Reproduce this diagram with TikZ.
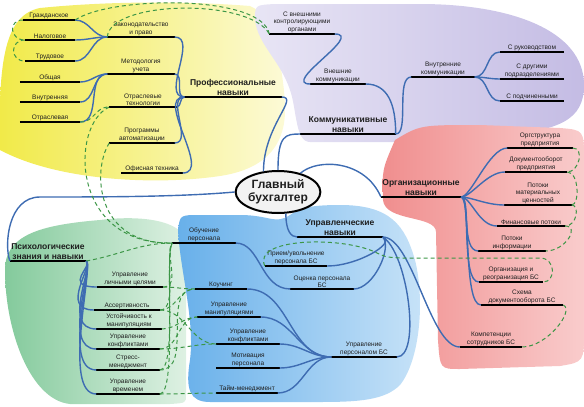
\documentclass[tikz,border=0pt]{standalone}
\usepackage{fontspec}
\setmainfont{Liberation Sans}
\usetikzlibrary{shapes.geometric}
\definecolor{yelA}{RGB}{241,234,72}
\definecolor{yelB}{RGB}{252,250,214}
\definecolor{prpA}{RGB}{232,229,245}
\definecolor{prpB}{RGB}{196,188,228}
\definecolor{pnkA}{RGB}{240,142,142}
\definecolor{pnkB}{RGB}{249,204,204}
\definecolor{bluA}{RGB}{104,176,234}
\definecolor{bluB}{RGB}{200,227,248}
\definecolor{grnA}{RGB}{132,202,156}
\definecolor{grnB}{RGB}{222,241,227}
\definecolor{ccon}{RGB}{62,108,178}
\definecolor{clnk}{RGB}{60,150,70}
\definecolor{ctxt}{RGB}{30,30,30}
\tikzset{
  lab/.style={font=\fontsize{6.5}{7.4}\selectfont, text=ctxt, align=center},
  uln/.style={draw, black, line width=2.2pt},
  leaf/.style={lab, anchor=south, inner sep=1.3pt, minimum width=#1pt,
    append after command={(\tikzlastnode.south west) edge[uln] (\tikzlastnode.south east)}},
  hleaf/.style={leaf=#1, font=\fontsize{8.5}{9.6}\selectfont\bfseries},
  bcon/.style={ccon, line width=1.4pt},
  dlnk/.style={clnk, line width=1pt, dash pattern=on 4pt off 3pt},
  hub/.style={ellipse, draw=black, line width=2pt, fill=gray!10, minimum width=78pt,
    minimum height=42pt, inner sep=0pt, align=center, text=ctxt,
    font=\fontsize{12}{13}\selectfont\bfseries},
}
\begin{document}
\begin{tikzpicture}[x=1pt,y=-1pt]
  \useasboundingbox (0,0) rectangle (584,407);
  % regions
  \shade[left color=yelA, right color=yelB] (0,150) .. controls (-2,60) and (5,15) .. (40,8)
    .. controls (120,0) and (200,2) .. (250,6) .. controls (275,15) and (285,80) .. (285,110)
    .. controls (285,150) and (260,170) .. (220,176) .. controls (160,185) and (60,182) .. (0,150) -- cycle;
  \shade[left color=prpA, right color=prpB] (255,20) .. controls (255,5) .. (275,4) -- (420,4)
    .. controls (510,4) and (584,30) .. (584,85) .. controls (584,120) and (560,130) .. (500,136)
    .. controls (450,140) and (420,142) .. (400,142) -- (310,142) .. controls (295,142) and (297,110) .. (290,90)
    .. controls (280,60) and (258,45) .. (255,20) -- cycle;
  \shade[left color=pnkA, right color=pnkB] (395,140) .. controls (420,125) .. (480,125) -- (560,128)
    .. controls (584,130) .. (584,160) -- (584,330) .. controls (584,362) .. (560,366) -- (460,369)
    .. controls (440,369) .. (438,340) -- (436,232) .. controls (436,215) and (385,222) .. (383,200)
    .. controls (382,170) .. (395,140) -- cycle;
  \shade[left color=grnA, right color=grnB] (5,270) .. controls (5,235) and (40,225) .. (100,220)
    .. controls (140,215) and (180,220) .. (186,240) -- (186,395) .. controls (186,403) .. (170,404)
    -- (70,404) .. controls (30,400) and (5,330) .. (5,270) -- cycle;
  \shade[left color=bluA, right color=bluB] (178,230) .. controls (180,215) .. (200,215) -- (240,215)
    .. controls (270,215) and (275,225) .. (290,215) .. controls (300,208) and (310,205) .. (340,205)
    .. controls (390,205) and (405,225) .. (415,260) .. controls (425,300) and (420,360) .. (400,385)
    .. controls (385,400) and (360,402) .. (320,402) -- (210,402) .. controls (190,402) and (185,390) .. (190,360)
    .. controls (195,320) and (180,270) .. (178,230) -- cycle;

  \node[hub] (chief) at (278,192) {Главный\\бухгалтер};

  \node[leaf=52] (grazh) at (49,20) {Гражданское};
  \node[leaf=50] (nalog) at (50,40) {Налоговое};
  \node[leaf=50] (trud) at (50,61) {Трудовое};
  \node[leaf=67] (zak) at (141,37) {Законодательство\\и право};
  \node[leaf=60] (obsh) at (50,82) {Общая};
  \node[leaf=60] (vnutr) at (50,102) {Внутренняя};
  \node[leaf=60] (otrasl) at (50,122) {Отраслевая};
  \node[leaf=67] (metod) at (141,74) {Методология\\учета};
  \node[leaf=67] (otrt) at (143,107) {Отраслевые\\технологии};
  \node[leaf=65] (prog) at (142,143) {Программы\\автоматизации};
  \node[leaf=61] (ofis) at (152,173) {Офисная техника};
  \node[hleaf=97] (prof) at (233,97) {Профессиональные\\навыки};

  \node[leaf=65] (sext) at (302,34) {С внешними\\контролирующими\\органами};
  \node[leaf=55] (vnesh) at (338,84) {Внешние\\коммуникации};
  \node[hleaf=95] (komm) at (348,134) {Коммуникативные\\навыки};
  \node[leaf=63] (vnutk) at (443,77) {Внутренние\\коммуникации};
  \node[leaf=64] (ruk) at (532,52) {С руководством};
  \node[leaf=64] (drug) at (532,79) {С другими\\подразделениями};
  \node[leaf=64] (podch) at (532,101) {С подчиненными};

  \node[hleaf=74] (org) at (421,197) {Организационные\\навыки};
  \node[leaf=65] (orgs) at (540,148) {Оргструктура\\предприятия};
  \node[leaf=62] (dokob) at (536,172) {Документооборот\\предприятия};
  \node[leaf=67] (potm) at (538,205) {Потоки\\материальных\\ценностей};
  \node[leaf=68] (fin) at (531,226) {Финансовые потоки};
  \node[leaf=67] (potinf) at (512,251) {Потоки\\информации};
  \node[leaf=64] (orgr) at (511,282) {Организация и\\реогранизация БС};
  \node[leaf=82] (shema) at (522,305) {Схема\\документооборота БС};
  \node[leaf=62] (komp) at (491,347) {Компетенции\\сотрудников БС};

  \node[hleaf=85] (upr) at (340,237) {Управленческие\\навыки};
  \node[leaf=62] (priem) at (296,266) {Прием/увольнение\\персонала БС};
  \node[leaf=63] (ocen) at (322,289) {Оценка персонала\\БС};
  \node[leaf=63] (obuch) at (204,243) {Обучение\\персонала};
  \node[leaf=52] (kouch) at (221,289) {Коучинг};
  \node[leaf=63] (uman) at (229,317) {Управление\\манипуляциями};
  \node[leaf=63] (ukonf) at (248,344) {Управление\\конфликтами};
  \node[leaf=63] (motiv) at (248,368) {Мотивация\\персонала};
  \node[leaf=61] (taim) at (247,393) {Тайм-менеджмент};
  \node[leaf=65] (uprp) at (364,357) {Управление\\персоналом БС};

  \node[hleaf=73] (psy) at (48,261) {Психологические\\знания и навыки};
  \node[leaf=66] (ulc) at (130,287) {Управление\\личными целями};
  \node[leaf=66] (asser) at (127,310) {Ассертивность};
  \node[leaf=65] (ust) at (129,329) {Устойчивость к\\манипуляциям};
  \node[leaf=63] (gkonf) at (128,349) {Управление\\конфликтами};
  \node[leaf=63] (stress) at (128,370) {Стресс-\\менеджмент};
  \node[leaf=63] (uvr) at (128,394) {Управление\\временем};

  % branches
  \foreach \s in {grazh,nalog,trud} \draw[bcon] (\s.south east) to[out=0,in=180] (zak.south west);
  \foreach \s in {obsh,vnutr,otrasl} \draw[bcon] (\s.south east) to[out=0,in=180] (metod.south west);
  \foreach \s in {zak,metod,otrt,prog,ofis} \draw[bcon] (\s.south east) to[out=0,in=180] (prof.south west);
  \draw[bcon] (prof.south east) .. controls +(18,0) and +(0,-45) .. (chief.125);

  \draw[bcon] (chief.north) .. controls +(0,-35) and +(-15,0) .. (komm.south west);
  \draw[bcon] (sext.south east) .. controls +(30,0) and +(-30,0) .. (vnesh.south west);
  \draw[bcon] (vnesh.south east) .. controls +(22,0) and +(0,-30) .. (komm.south east);
  \draw[bcon] (komm.south east) .. controls +(14,0) and +(-16,0) .. (vnutk.south west);
  \foreach \t in {ruk,drug,podch} \draw[bcon] (vnutk.south east) to[out=0,in=180] (\t.south west);

  \draw[bcon] (chief.40) .. controls (318,158) and (365,160) .. (org.south west);
  \foreach \t in {orgs,dokob,potm,fin,potinf,orgr,shema}
    \draw[bcon] (org.south east) .. controls +(10,0) and +(-18,0) .. (\t.south west);

  \draw[bcon] (chief.290) .. controls +(0,18) and +(-6,0) .. (upr.south west);
  \draw[bcon] (upr.south east) .. controls +(14,6) and +(30,0) .. (priem.south east);
  \draw[bcon] (upr.south east) .. controls +(10,10) and +(20,0) .. (ocen.south east);
  \draw[bcon] (obuch.south east) .. controls +(25,0) and +(-30,0) .. (ocen.south west);
  \draw[bcon] (uprp.south east) .. controls +(25,0) and +(25,15) .. (upr.south east);
  \draw[bcon] (upr.south east) .. controls +(30,0) and +(-30,0) .. (komp.south west);
  \foreach \s in {kouch,uman,ukonf,motiv,taim} \draw[bcon] (\s.south east) to[out=0,in=180] (uprp.south west);

  \draw[bcon] (chief.west) .. controls (180,197) and (100,197) .. (40,197)
    .. controls (8,197) and (4,245) .. (psy.south west);
  \foreach \t in {ulc,asser,ust,gkonf,stress,uvr}
    \draw[bcon] (psy.south east) .. controls +(8,4) and +(-35,0) .. (\t.south west);

  % cross links
  \draw[dlnk] (grazh.south west) .. controls +(-15,0) and +(-15,0) .. (nalog.south west);
  \draw[dlnk] (nalog.south west) .. controls +(-15,0) and +(-15,0) .. (trud.south west);
  \draw[dlnk] (grazh.south east) .. controls (110,-4) and (262,-6) .. (sext.south west);
  \draw[dlnk] (zak.south west) .. controls (110,0) and (250,-2) .. (sext.south west);
  \draw[dlnk] (otrasl.south east) .. controls +(15,0) and +(-15,0) .. (otrt.south west);
  \draw[dlnk] (otrt.south west) .. controls (70,125) and (70,245) .. (obuch.south west);
  \draw[dlnk] (prog.south west) .. controls (92,170) and (95,245) .. (obuch.south west);
  \draw[dlnk] (psy.south east) .. controls (120,255) and (140,243) .. (obuch.south west);
  \foreach \s in {ulc,asser,stress,uvr}
    \draw[dlnk] (\s.south east) .. controls +(18,0) and +(-8,10) .. (obuch.south west);
  \draw[dlnk] (ulc.south east) to[out=0,in=180] (kouch.south west);
  \draw[dlnk] (asser.south east) to[out=0,in=180] (kouch.south west);
  \draw[dlnk] (asser.south east) to[out=0,in=180] (ukonf.south west);
  \draw[dlnk] (ust.south east) to[out=0,in=180] (uman.south west);
  \draw[dlnk] (gkonf.south east) to[out=0,in=180] (ukonf.south west);
  \draw[dlnk] (gkonf.south east) to[out=0,in=180] (uman.south west);
  \draw[dlnk] (stress.south east) to[out=0,in=180] (kouch.south west);
  \draw[dlnk] (uvr.south east) to[out=0,in=180] (taim.south west);
  \draw[dlnk] (priem.south west) .. controls (252,238) and (340,236) .. (375,252)
    .. controls (385,257) .. (400,258) -- (540,258) .. controls (556,258) and (556,282) .. (orgr.south east);
  \draw[dlnk] (orgs.south east) .. controls +(12,0) and +(12,0) .. (dokob.south east);
  \draw[dlnk] (dokob.south east) .. controls +(12,0) and +(8,0) .. (potm.south east);
  \draw[dlnk] (potm.south east) .. controls +(8,0) and +(12,0) .. (fin.south east);
  \draw[dlnk] (fin.south east) .. controls +(15,0) and +(20,0) .. (potinf.south east);
  \draw[dlnk] (shema.south east) .. controls +(12,5) and +(25,0) .. (komp.south east);
\end{tikzpicture}
\end{document}
